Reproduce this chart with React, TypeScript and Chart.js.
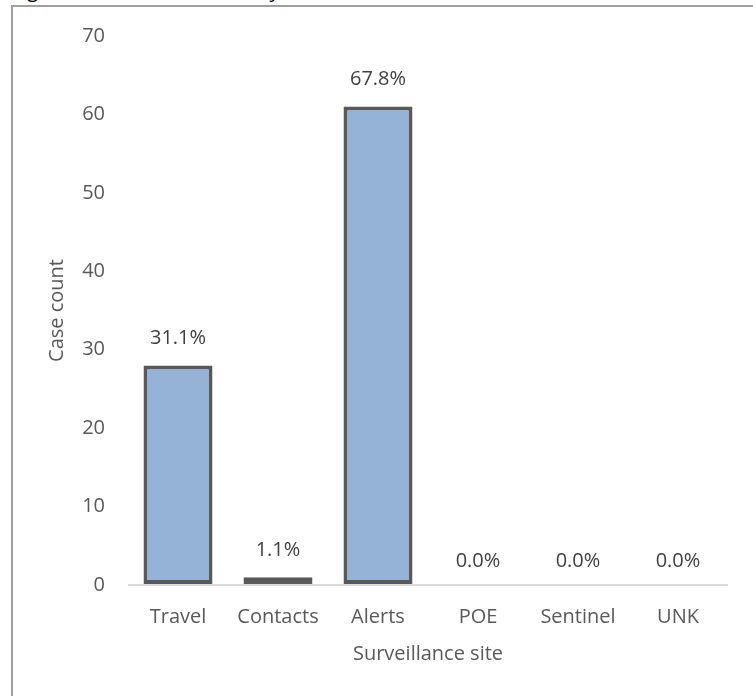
import React, { useEffect, useRef } from "react";
import { Chart, registerables } from "chart.js";

Chart.register(...registerables);

const categories = ["Travel", "Contacts", "Alerts", "POE", "Sentinel", "UNK"];
const caseCounts = [28, 1, 61, 0, 0, 0];
const percentLabels = ["31.1%", "1.1%", "67.8%", "0.0%", "0.0%", "0.0%"];
const yTicks = [0, 10, 20, 30, 40, 50, 60, 70];
const xTitle = "Surveillance site";
const yTitle = "Case count";
const cutCaption = "Figure 4: Confirmed cases by surveillance site";

const FONT = '"Open Sans", "Noto Sans", sans-serif';

const pctLabelPlugin = {
  id: "pctLabels",
  afterDatasetsDraw(chart: any) {
    const { ctx } = chart;
    const meta = chart.getDatasetMeta(0);
    ctx.save();
    ctx.font = `20px ${FONT}`;
    ctx.fillStyle = "#404040";
    ctx.textAlign = "center";
    ctx.textBaseline = "middle";
    meta.data.forEach((bar: any, i: number) => {
      const gap = caseCounts[i] > 0 ? 27 : 24;
      ctx.fillText(percentLabels[i], bar.x, bar.y - gap);
    });
    ctx.restore();
  },
};

export default function App() {
  const ref = useRef<HTMLCanvasElement | null>(null);

  useEffect(() => {
    document.body.style.margin = "0";
    document.body.style.overflow = "hidden";
    const canvas = ref.current;
    if (!canvas) return;
    const chart = new Chart(canvas, {
      type: "bar",
      data: {
        labels: categories,
        datasets: [
          {
            data: caseCounts,
            backgroundColor: "#95B3D7",
            borderColor: "#595959",
            borderWidth: 4,
            borderSkipped: false,
            barPercentage: 0.69,
            categoryPercentage: 1,
          },
        ],
      },
      options: {
        responsive: false,
        animation: false,
        events: [],
        layout: { padding: { left: 20, top: 36, right: 25, bottom: 20 } },
        plugins: {
          legend: { display: false },
          tooltip: { enabled: false },
          title: { display: false },
        },
        scales: {
          x: {
            grid: { display: false, drawTicks: false },
            border: { display: false },
            ticks: {
              color: "#595959",
              font: { family: FONT, size: 20 },
              padding: 20,
              maxRotation: 0,
              autoSkip: false,
            },
            title: {
              display: true,
              text: xTitle,
              color: "#595959",
              font: { family: FONT, size: 20 },
              padding: { top: 0, bottom: 10 },
            },
            afterFit(scale: any) {
              scale.height = 91;
            },
          },
          y: {
            min: 0,
            max: 70,
            afterBuildTicks(scale: any) {
              scale.ticks = yTicks.map((v) => ({ value: v }));
            },
            grid: {
              drawTicks: false,
              color: (c: any) => (c.tick && c.tick.value === 0 ? "#d9d9d9" : "rgba(0,0,0,0)"),
              lineWidth: 2,
            },
            border: { display: false },
            ticks: {
              color: "#595959",
              font: { family: FONT, size: 20 },
              padding: 23,
            },
            title: {
              display: true,
              text: yTitle,
              color: "#595959",
              font: { family: FONT, size: 20 },
              padding: { top: 25, bottom: 0 },
            },
            afterFit(scale: any) {
              scale.width = 108;
            },
          },
        },
      },
      plugins: [pctLabelPlugin],
    });
    return () => chart.destroy();
  }, []);

  return (
    <div
      style={{
        position: "fixed",
        left: 0,
        top: 0,
        width: 753,
        height: 696,
        overflow: "hidden",
        background: "#ffffff",
      }}
    >
      <div
        style={{
          position: "absolute",
          left: 12,
          top: -22,
          fontFamily: FONT,
          fontSize: 20,
          lineHeight: "24px",
          color: "#000000",
          whiteSpace: "nowrap",
        }}
      >
        {cutCaption}
      </div>
      <div
        style={{
          position: "absolute",
          left: 11,
          top: 5,
          width: 900,
          height: 900,
          borderLeft: "2px solid #a0a0a0",
          borderTop: "2px solid #a0a0a0",
          background: "#ffffff",
        }}
      />
      <canvas
        ref={ref}
        width={753}
        height={696}
        style={{ position: "absolute", left: 0, top: 0, width: 753, height: 696 }}
      />
    </div>
  );
}
